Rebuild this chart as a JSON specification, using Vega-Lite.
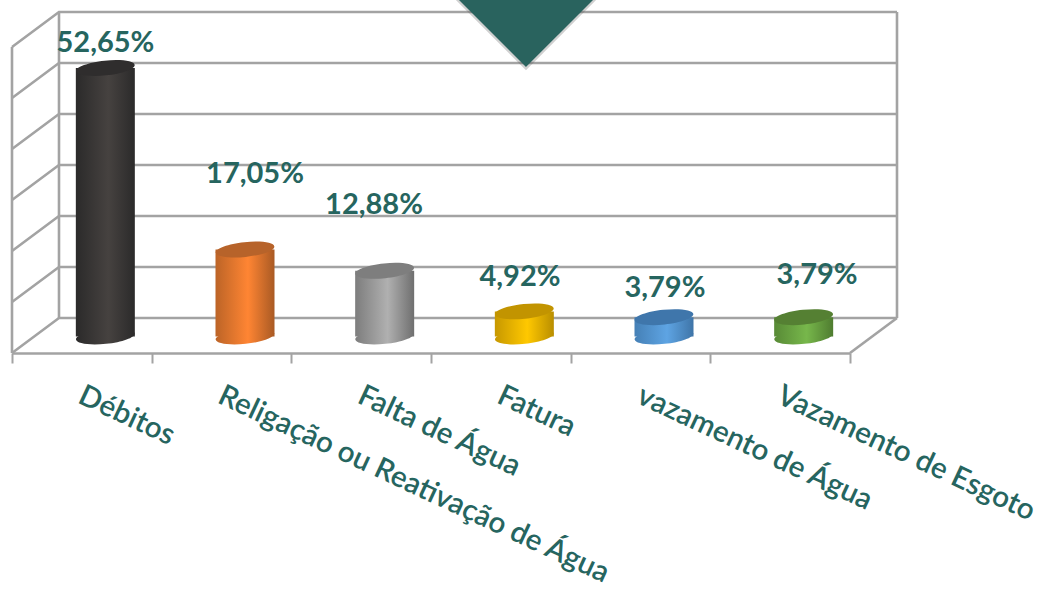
{
"$schema":"https://vega.github.io/schema/vega-lite/v6.json",
"width":838,"height":341,
"autosize":{"type":"none"},
"padding":{"left":12,"top":12,"right":193,"bottom":237},
"background":"white",
"config":{"view":{"stroke":null}},
"datasets":{
"barras":[
{"categoria":"Débitos","percentual":52.65},
{"categoria":"Religação ou Reativação de Água","percentual":17.05},
{"categoria":"Falta de Água","percentual":12.88},
{"categoria":"Fatura","percentual":4.92},
{"categoria":"vazamento de Água","percentual":3.79},
{"categoria":"Vazamento de Esgoto","percentual":3.79}
],
"grade":[
{"linha":"g0","u":0,"v":0},{"linha":"g0","u":0.3365,"v":6.86},{"linha":"g0","u":6.3365,"v":6.86},
{"linha":"chao","u":6,"v":0},{"linha":"chao","u":6.3365,"v":6.86},
{"linha":"g10","u":0,"v":10},{"linha":"g10","u":0.3365,"v":16.86},{"linha":"g10","u":6.3365,"v":16.86},
{"linha":"g20","u":0,"v":20},{"linha":"g20","u":0.3365,"v":26.86},{"linha":"g20","u":6.3365,"v":26.86},
{"linha":"g30","u":0,"v":30},{"linha":"g30","u":0.3365,"v":36.86},{"linha":"g30","u":6.3365,"v":36.86},
{"linha":"g40","u":0,"v":40},{"linha":"g40","u":0.3365,"v":46.86},{"linha":"g40","u":6.3365,"v":46.86},
{"linha":"g50","u":0,"v":50},{"linha":"g50","u":0.3365,"v":56.86},{"linha":"g50","u":6.3365,"v":56.86},
{"linha":"g60","u":0,"v":60},{"linha":"g60","u":0.3365,"v":66.86},{"linha":"g60","u":6.3365,"v":66.86},
{"linha":"esq","u":0,"v":0},{"linha":"esq","u":0,"v":60},
{"linha":"fundo","u":0.3365,"v":6.86},{"linha":"fundo","u":0.3365,"v":66.86},
{"linha":"dir","u":6.3365,"v":6.86},{"linha":"dir","u":6.3365,"v":66.86}
],
"rotulos":[
{"texto":"52,65%","u":0.669,"v":60.8},
{"texto":"17,05%","u":1.74,"v":35.1},
{"texto":"12,88%","u":2.592,"v":29.0},
{"texto":"4,92%","u":3.637,"v":14.9},
{"texto":"3,79%","u":4.675,"v":12.7},
{"texto":"3,79%","u":5.764,"v":15.3}
],
"seta":[{"u":3.68,"v":63.33}]
},
"resolve":{"scale":{"x":"independent"}},
"layer":[
{
"encoding":{
"x":{"field":"u","type":"quantitative","scale":{"domain":[0,6],"nice":false,"zero":false},"axis":null},
"y":{"field":"v","type":"quantitative","scale":{"domain":[0,66.86],"nice":false,"zero":false},"axis":null}
},
"layer":[
{"data":{"name":"grade"},"mark":{"type":"line","color":"#a3a3a3","strokeWidth":2.6,"clip":false,"interpolate":"linear"},"encoding":{"detail":{"field":"linha"}}},
{"data":{"name":"seta"},"mark":{"type":"point","filled":false,"shape":"M-1.925,-1 L1.925,-1 L0,0.925 Z","size":6400,"stroke":"#555555","strokeWidth":3,"strokeOpacity":0.4,"fill":null,"yOffset":1}},
{"data":{"name":"seta"},"mark":{"type":"point","filled":true,"shape":"M-1.925,-1 L1.925,-1 L0,0.925 Z","size":6400,"fill":"#29635e","opacity":1}}
]
},
{
"data":{"name":"barras"},
"encoding":{
"x":{"field":"categoria","type":"nominal","sort":null,
"scale":{"domain":["Débitos","Religação ou Reativação de Água","Falta de Água","Fatura","vazamento de Água","Vazamento de Esgoto"],"paddingInner":0,"paddingOuter":0},
"axis":{"title":null,"tickBand":"extent","labelAngle":25,"labelAlign":"left","labelBaseline":"top","labelFont":"Lato","labelFontSize":29.5,"labelFontWeight":600,"labelColor":"#26655f","labelPadding":18,"labelOffset":4,"labelLimit":600,"labelOverlap":false,"labelBound":false,"labelFlush":false,"domainColor":"#a3a3a3","domainWidth":2.6,"tickColor":"#a3a3a3","tickWidth":2,"tickSize":10,"grid":false}},
"y":{"field":"percentual","type":"quantitative","scale":{"domain":[0,66.86],"nice":false,"zero":false},"axis":null}
},
"layer":[
{"transform":[{"filter":"datum.categoria==='Débitos'"}],"layer":[
{"mark":{"type":"point","filled":true,"shape":"M-0.995,0.104 A1,0.25 -6 1 1 0.995,-0.104 A1,0.25 -6 1 1 -0.995,0.104 Z","size":3481,"xOffset":23.5,"yOffset":-16.5,"opacity":1,"fill":{"gradient":"linear","x1":0,"y1":0,"x2":1,"y2":0,"stops":[{"offset":0,"color":"#2b2a2a"},{"offset":0.55,"color":"#464240"},{"offset":1,"color":"#2b2a2a"}]}},"encoding":{"y":{"datum":0}}},
{"mark":{"type":"bar","width":59,"xOffset":23.5,"yOffset":-16.5,"y2Offset":-16.5,"fill":{"gradient":"linear","x1":0,"y1":0,"x2":1,"y2":0,"stops":[{"offset":0,"color":"#2b2a2a"},{"offset":0.55,"color":"#464240"},{"offset":1,"color":"#2b2a2a"}]}},"encoding":{"y2":{"datum":0}}},
{"mark":{"type":"point","filled":true,"shape":"M-0.995,0.104 A1,0.25 -6 1 1 0.995,-0.104 A1,0.25 -6 1 1 -0.995,0.104 Z","size":3481,"xOffset":23.5,"yOffset":-16.5,"opacity":1,"fill":"#2f2d2d"}}
]},
{"transform":[{"filter":"datum.categoria==='Religação ou Reativação de Água'"}],"layer":[
{"mark":{"type":"point","filled":true,"shape":"M-0.995,0.104 A1,0.25 -6 1 1 0.995,-0.104 A1,0.25 -6 1 1 -0.995,0.104 Z","size":3481,"xOffset":23.5,"yOffset":-16.5,"opacity":1,"fill":{"gradient":"linear","x1":0,"y1":0,"x2":1,"y2":0,"stops":[{"offset":0,"color":"#bc6427"},{"offset":0.55,"color":"#ff8533"},{"offset":1,"color":"#a95a24"}]}},"encoding":{"y":{"datum":0}}},
{"mark":{"type":"bar","width":59,"xOffset":23.5,"yOffset":-16.5,"y2Offset":-16.5,"fill":{"gradient":"linear","x1":0,"y1":0,"x2":1,"y2":0,"stops":[{"offset":0,"color":"#bc6427"},{"offset":0.55,"color":"#ff8533"},{"offset":1,"color":"#a95a24"}]}},"encoding":{"y2":{"datum":0}}},
{"mark":{"type":"point","filled":true,"shape":"M-0.995,0.104 A1,0.25 -6 1 1 0.995,-0.104 A1,0.25 -6 1 1 -0.995,0.104 Z","size":3481,"xOffset":23.5,"yOffset":-16.5,"opacity":1,"fill":"#b7632a"}}
]},
{"transform":[{"filter":"datum.categoria==='Falta de Água'"}],"layer":[
{"mark":{"type":"point","filled":true,"shape":"M-0.995,0.104 A1,0.25 -6 1 1 0.995,-0.104 A1,0.25 -6 1 1 -0.995,0.104 Z","size":3481,"xOffset":23.5,"yOffset":-16.5,"opacity":1,"fill":{"gradient":"linear","x1":0,"y1":0,"x2":1,"y2":0,"stops":[{"offset":0,"color":"#7d7d7d"},{"offset":0.55,"color":"#b0b0b0"},{"offset":1,"color":"#6f6f6f"}]}},"encoding":{"y":{"datum":0}}},
{"mark":{"type":"bar","width":59,"xOffset":23.5,"yOffset":-16.5,"y2Offset":-16.5,"fill":{"gradient":"linear","x1":0,"y1":0,"x2":1,"y2":0,"stops":[{"offset":0,"color":"#7d7d7d"},{"offset":0.55,"color":"#b0b0b0"},{"offset":1,"color":"#6f6f6f"}]}},"encoding":{"y2":{"datum":0}}},
{"mark":{"type":"point","filled":true,"shape":"M-0.995,0.104 A1,0.25 -6 1 1 0.995,-0.104 A1,0.25 -6 1 1 -0.995,0.104 Z","size":3481,"xOffset":23.5,"yOffset":-16.5,"opacity":1,"fill":"#7e7e7e"}}
]},
{"transform":[{"filter":"datum.categoria==='Fatura'"}],"layer":[
{"mark":{"type":"point","filled":true,"shape":"M-0.995,0.104 A1,0.25 -6 1 1 0.995,-0.104 A1,0.25 -6 1 1 -0.995,0.104 Z","size":3481,"xOffset":23.5,"yOffset":-16.5,"opacity":1,"fill":{"gradient":"linear","x1":0,"y1":0,"x2":1,"y2":0,"stops":[{"offset":0,"color":"#c79800"},{"offset":0.55,"color":"#ffc800"},{"offset":1,"color":"#b98e00"}]}},"encoding":{"y":{"datum":0}}},
{"mark":{"type":"bar","width":59,"xOffset":23.5,"yOffset":-16.5,"y2Offset":-16.5,"fill":{"gradient":"linear","x1":0,"y1":0,"x2":1,"y2":0,"stops":[{"offset":0,"color":"#c79800"},{"offset":0.55,"color":"#ffc800"},{"offset":1,"color":"#b98e00"}]}},"encoding":{"y2":{"datum":0}}},
{"mark":{"type":"point","filled":true,"shape":"M-0.995,0.104 A1,0.25 -6 1 1 0.995,-0.104 A1,0.25 -6 1 1 -0.995,0.104 Z","size":3481,"xOffset":23.5,"yOffset":-16.5,"opacity":1,"fill":"#c29400"}}
]},
{"transform":[{"filter":"datum.categoria==='vazamento de Água'"}],"layer":[
{"mark":{"type":"point","filled":true,"shape":"M-0.995,0.104 A1,0.25 -6 1 1 0.995,-0.104 A1,0.25 -6 1 1 -0.995,0.104 Z","size":3481,"xOffset":23.5,"yOffset":-16.5,"opacity":1,"fill":{"gradient":"linear","x1":0,"y1":0,"x2":1,"y2":0,"stops":[{"offset":0,"color":"#4580b6"},{"offset":0.55,"color":"#5ea4e3"},{"offset":1,"color":"#3f75a8"}]}},"encoding":{"y":{"datum":0}}},
{"mark":{"type":"bar","width":59,"xOffset":23.5,"yOffset":-16.5,"y2Offset":-16.5,"fill":{"gradient":"linear","x1":0,"y1":0,"x2":1,"y2":0,"stops":[{"offset":0,"color":"#4580b6"},{"offset":0.55,"color":"#5ea4e3"},{"offset":1,"color":"#3f75a8"}]}},"encoding":{"y2":{"datum":0}}},
{"mark":{"type":"point","filled":true,"shape":"M-0.995,0.104 A1,0.25 -6 1 1 0.995,-0.104 A1,0.25 -6 1 1 -0.995,0.104 Z","size":3481,"xOffset":23.5,"yOffset":-16.5,"opacity":1,"fill":"#3f76ab"}}
]},
{"transform":[{"filter":"datum.categoria==='Vazamento de Esgoto'"}],"layer":[
{"mark":{"type":"point","filled":true,"shape":"M-0.995,0.104 A1,0.25 -6 1 1 0.995,-0.104 A1,0.25 -6 1 1 -0.995,0.104 Z","size":3481,"xOffset":23.5,"yOffset":-16.5,"opacity":1,"fill":{"gradient":"linear","x1":0,"y1":0,"x2":1,"y2":0,"stops":[{"offset":0,"color":"#588a36"},{"offset":0.55,"color":"#77b74b"},{"offset":1,"color":"#4f7c30"}]}},"encoding":{"y":{"datum":0}}},
{"mark":{"type":"bar","width":59,"xOffset":23.5,"yOffset":-16.5,"y2Offset":-16.5,"fill":{"gradient":"linear","x1":0,"y1":0,"x2":1,"y2":0,"stops":[{"offset":0,"color":"#588a36"},{"offset":0.55,"color":"#77b74b"},{"offset":1,"color":"#4f7c30"}]}},"encoding":{"y2":{"datum":0}}},
{"mark":{"type":"point","filled":true,"shape":"M-0.995,0.104 A1,0.25 -6 1 1 0.995,-0.104 A1,0.25 -6 1 1 -0.995,0.104 Z","size":3481,"xOffset":23.5,"yOffset":-16.5,"opacity":1,"fill":"#558033"}}
]}
]
},
{
"data":{"name":"rotulos"},
"mark":{"type":"text","font":"Lato","fontSize":29,"fontWeight":700,"color":"#26655f","align":"center","baseline":"middle"},
"encoding":{
"x":{"field":"u","type":"quantitative","scale":{"domain":[0,6],"nice":false,"zero":false},"axis":null},
"y":{"field":"v","type":"quantitative","scale":{"domain":[0,66.86],"nice":false,"zero":false},"axis":null},
"text":{"field":"texto","type":"nominal"}
}
}
]
}
